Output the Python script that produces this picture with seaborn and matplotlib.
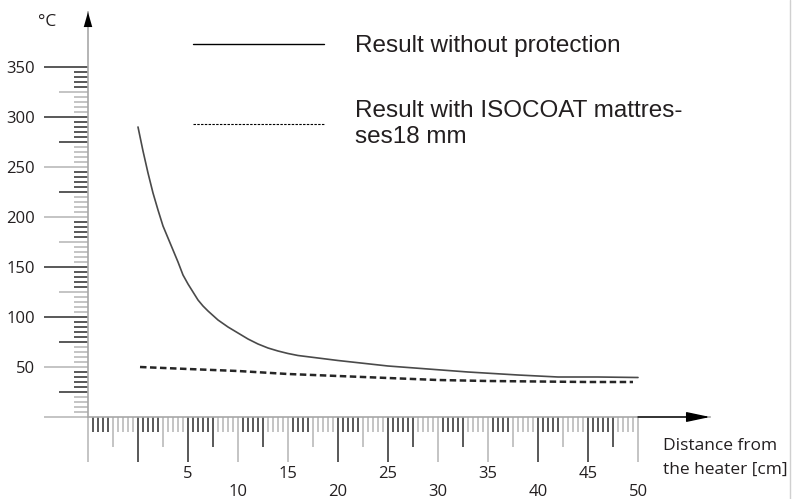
import numpy as np
import pandas as pd
import seaborn as sns
import matplotlib.pyplot as plt
from matplotlib.lines import Line2D
from matplotlib.transforms import blended_transform_factory

# distance from the heater [cm] and temperature [degC]
dist_bare = [0, 0.5, 1, 1.5, 2, 2.5, 3, 3.5, 4, 4.5, 5, 5.5, 6, 6.5, 7, 8, 9, 10, 11, 12, 13, 14,
             15, 16, 18, 20, 25, 29, 33, 38, 42, 46, 50]
temp_bare = [290, 266, 244, 224, 207, 191, 179, 167, 155, 142, 133, 125, 117, 111, 106, 97, 90, 84,
             78, 73, 69, 66, 63.5, 61.5, 59, 56.5, 51, 48, 45, 42, 40, 40, 39.5]

dist_iso = [0.2, 5, 10, 15, 20, 25, 30, 35, 40, 45, 49.5]
temp_iso = [50, 48, 46, 43, 41, 39, 37, 36, 35.5, 35, 35]

label_bare = "Result without protection"
label_iso = "Result with ISOCOAT mattres-\nses18 mm"

x_labels_up = [5, 15, 25, 35, 45]
x_labels_down = [10, 20, 30, 40, 50]
y_labels = [50, 100, 150, 200, 250, 300, 350]

GRAY = "#b4b4b4"
DARK = "#2b2b2b"
TXT = "#231f20"

sns.set_style("white")
plt.rcParams["font.family"] = ["Open Sans", "DejaVu Sans"]

fig = plt.figure(figsize=(7.92, 4.99), dpi=100)
W, H = 792, 499
ax_l, ax_r, ax_b, ax_t = 88, 710, 417, 12
ax = fig.add_axes([ax_l / W, 1 - ax_b / H, (ax_r - ax_l) / W, (ax_b - ax_t) / H])
ax_w, ax_h = ax_r - ax_l, ax_b - ax_t

df_bare = pd.DataFrame({"dist": dist_bare, "temp": temp_bare})
df_iso = pd.DataFrame({"dist": dist_iso, "temp": temp_iso})
sns.lineplot(data=df_bare, x="dist", y="temp", ax=ax, color="#4a4a4a", lw=1.2, legend=False)
sns.lineplot(data=df_iso, x="dist", y="temp", ax=ax, color="#262626", lw=1.8,
             linestyle=(0, (2.6, 1.4)), legend=False)

# ruler-like ticks drawn by hand (three lengths, black/grey runs)
tx = blended_transform_factory(ax.transData, ax.transAxes)
ty = blended_transform_factory(ax.transAxes, ax.transData)

def xticks(vals, length, colors):
    ax.vlines(vals, 0, -length / ax_h, colors=colors, lw=1.1, transform=tx, clip_on=False)

def yticks(vals, length, colors):
    ax.hlines(vals, 0, -length / ax_w, colors=colors, lw=1.1, transform=ty, clip_on=False)

xl = np.arange(-5, 50.1, 5)
xm = np.arange(-2.5, 50, 5)
xs = [v for v in np.arange(-5, 50.01, 0.5) if abs(v / 2.5 - round(v / 2.5)) > 1e-6]
xticks(xl, 45, [DARK if ((j + 1) // 2) % 2 else GRAY for j in range(len(xl))])
xticks(xm, 30, [DARK if (j // 2) % 2 else GRAY for j in range(len(xm))])
xticks(xs, 15, [DARK if (k // 4) % 2 == 0 else GRAY for k in range(len(xs))])

yl = np.arange(0, 351, 50)
ym = np.arange(25, 350, 50)
ys = [v for v in range(5, 350, 5) if v % 25]
yticks(yl, 44, [DARK if (j // 2) % 2 else GRAY for j in range(len(yl))])
yticks(ym, 29, [DARK if (j // 2) % 2 == 0 else GRAY for j in range(len(ym))])
yticks(ys, 14, [GRAY if (k // 4) % 2 == 0 else DARK for k in range(len(ys))])

ax.set_xlim(-5, 57.2)
ax.set_ylim(0, 405)

# tick labels: staggered on x
ax.set_yticks(y_labels, [str(v) for v in y_labels])
ax.set_xticks(x_labels_up, [str(v) for v in x_labels_up])
ax.set_xticks(x_labels_down, [str(v) for v in x_labels_down], minor=True)
ax.tick_params(axis="y", length=0, pad=38, labelsize=12, labelcolor=TXT)
ax.tick_params(axis="x", which="major", length=0, pad=35, labelsize=12, labelcolor=TXT)
ax.tick_params(axis="x", which="minor", length=0, pad=48, labelsize=12, labelcolor=TXT)

for s in ["top", "right"]:
    ax.spines[s].set_visible(False)
for s in ["left", "bottom"]:
    ax.spines[s].set_color("#a8a8a8")
    ax.spines[s].set_linewidth(1.2)

# arrow heads
ax.annotate("", xy=(1, 0), xytext=(50, 0), xycoords=("axes fraction", "data"),
            textcoords="data",
            arrowprops=dict(arrowstyle="-|>,head_length=0.8,head_width=0.17", color="black",
                            lw=1.0, mutation_scale=18, shrinkA=0, shrinkB=0))
ax.annotate("", xy=(0, 1), xytext=(0, 0.96), xycoords="axes fraction",
            arrowprops=dict(arrowstyle="-|>,head_length=0.6,head_width=0.17", color="black",
                            lw=0.01, mutation_scale=18, shrinkA=0, shrinkB=0))

ax.set_xlabel("Distance from\nthe heater [cm]", fontsize=12.5, color=TXT, ha="left",
              va="center", linespacing=1.6)
ax.xaxis.set_label_coords((663 - ax_l) / ax_w, (ax_b - 458) / ax_h)
ax.set_ylabel("°C", fontsize=12.5, color=TXT, rotation=0, ha="center", va="center")
ax.yaxis.set_label_coords((47 - ax_l) / ax_w, (ax_b - 22) / ax_h)

handles = [Line2D([], [], color="black", lw=1.0),
           Line2D([], [], color="black", lw=0.8, linestyle=(0, (2.2, 1.2)))]
ax.legend(handles, [label_bare, label_iso], loc="upper left",
          bbox_to_anchor=(193 / W, 1 - 35 / H), bbox_transform=fig.transFigure,
          frameon=False, borderpad=0, borderaxespad=0, handlelength=5.4, handletextpad=1.25,
          labelspacing=1.78, prop={"family": "Liberation Sans", "size": 17.5},
          labelcolor=TXT)

# thin grey border at the right edge of the original picture
fig.add_artist(Line2D([789.5 / W, 789.5 / W], [0, 1], color="#d0d0d0", lw=1.0))

fig.savefig("out.png", dpi=100, facecolor="white")
